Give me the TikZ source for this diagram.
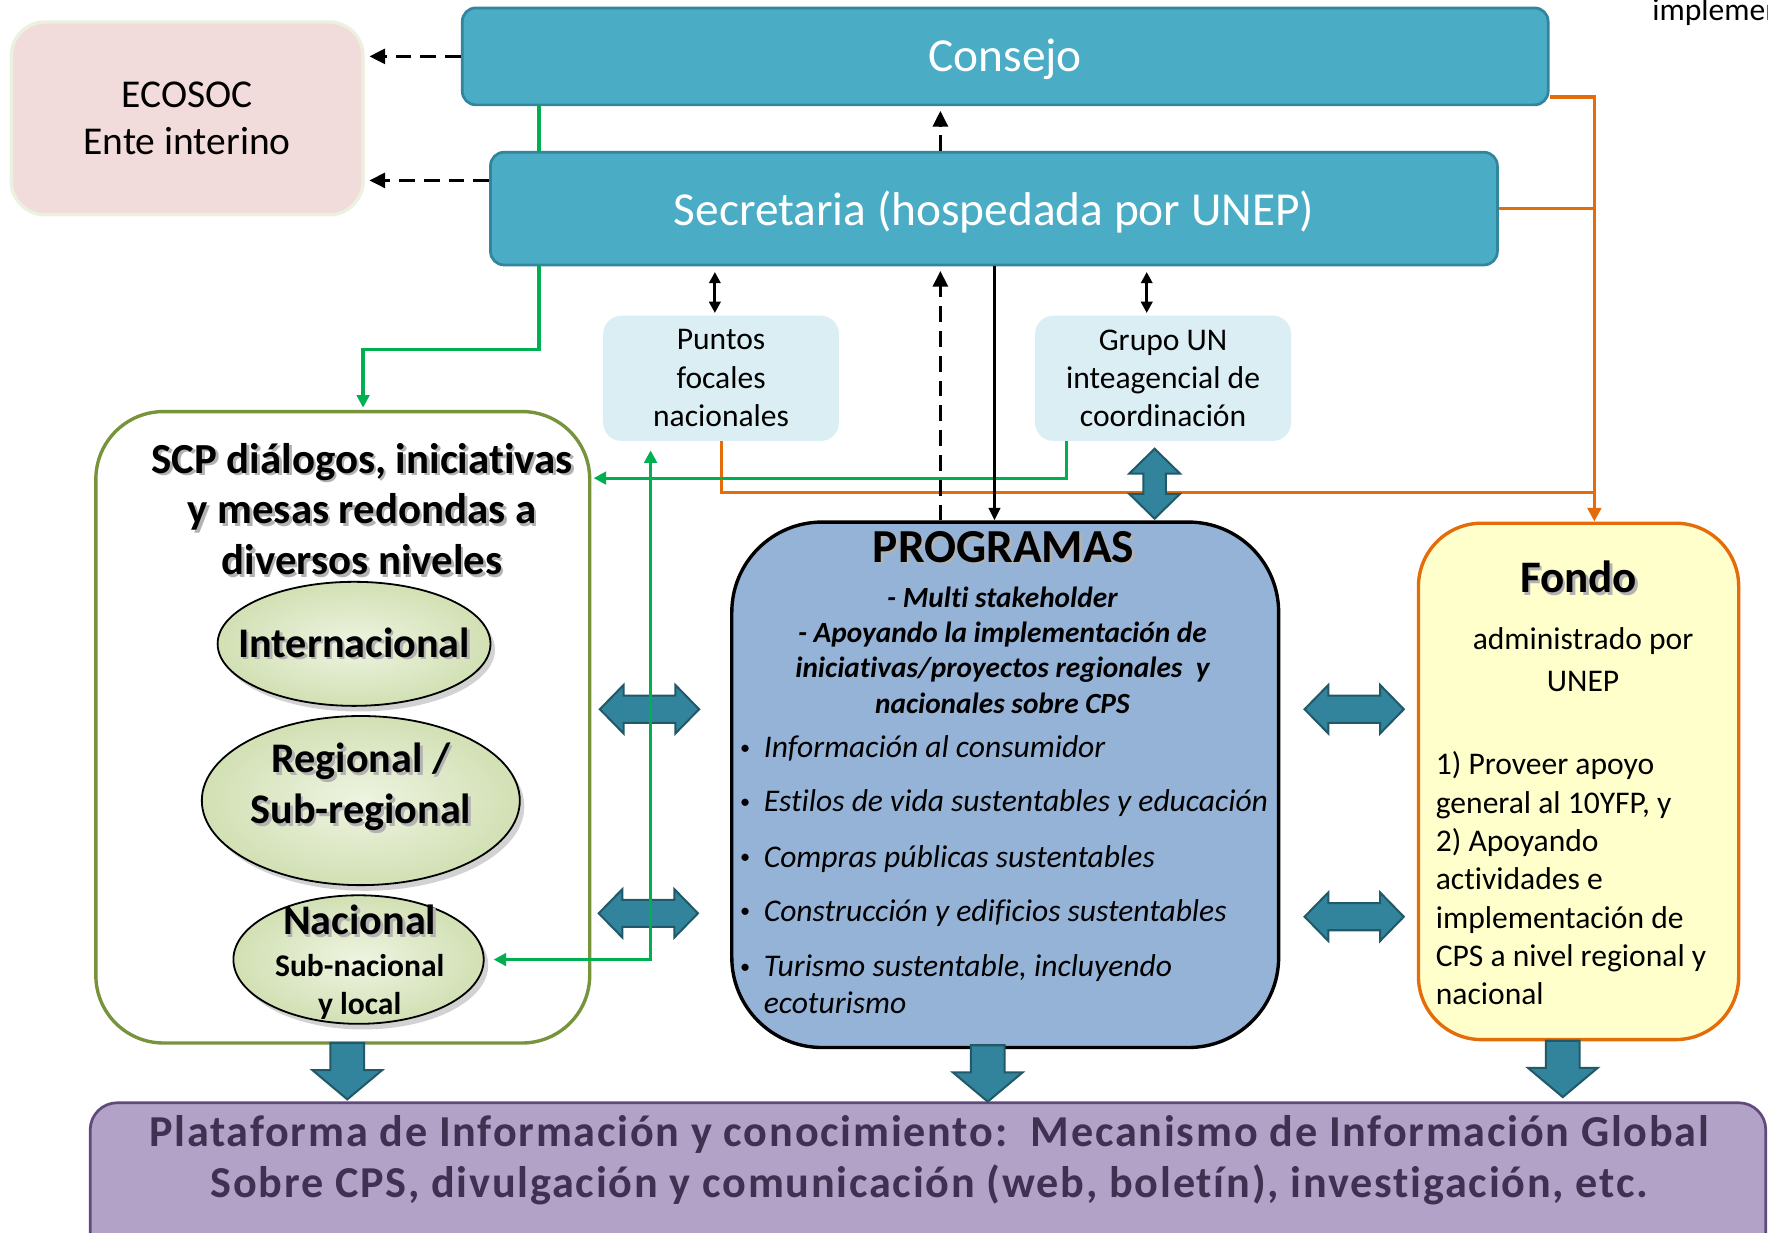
\documentclass[tikz,border=0pt]{standalone}
\usepackage{fontspec}
\setmainfont[Ligatures=NoCommon]{Carlito}
\newfontfamily\platfont[LetterSpace=4.0,Ligatures=NoCommon]{Carlito}
\usetikzlibrary{arrows.meta}
\usetikzlibrary{shapes.geometric}
\usetikzlibrary{shadows}

\definecolor{ecopink}{HTML}{F2DCDB}
\definecolor{ecoedge}{HTML}{EBF1DE}
\definecolor{tealfill}{HTML}{4BACC6}
\definecolor{tealedge}{HTML}{31859C}
\definecolor{lightblue}{HTML}{DAEEF3}
\definecolor{scpedge}{HTML}{77933C}
\definecolor{ellfill}{HTML}{D2E0B4}
\definecolor{ellhi}{HTML}{EEF4E1}
\definecolor{progblue}{HTML}{95B3D7}
\definecolor{fondofill}{HTML}{FFFFCC}
\definecolor{fondoedge}{HTML}{E46C0A}
\definecolor{linegreen}{HTML}{00B050}
\definecolor{blockfill}{HTML}{31849B}
\definecolor{blockedge}{HTML}{215968}
\definecolor{platfill}{HTML}{B3A2C7}
\definecolor{platedge}{HTML}{604A7B}
\definecolor{plattext}{HTML}{403152}

\newcommand\txtshadow[1]{\leavevmode\rlap{\hspace{1.2pt}\raisebox{-1.2pt}{\textcolor{black!30}{#1}}}#1}
\newcommand\smallbullet{\raisebox{1.5pt}{\fontsize{9}{9}\selectfont\textbullet}}
\newcommand\lowered[1]{\raisebox{-1.5pt}[\height][\depth]{#1}}

\begin{document}
\begin{tikzpicture}
 [ x=0.5pt, y=-0.5pt
 , box/.style={rectangle, inner sep=0pt, align=center}
 , pink box/.style={box, fill=ecopink, draw=ecoedge, line width=1.5pt, rounded corners=15pt, font=\fontsize{17.5}{21}\selectfont}
 , teal box/.style={box, fill=tealfill, draw=tealedge, line width=1.2pt, rounded corners=6pt, text=white, font=\fontsize{21}{25}\selectfont}
 , light box/.style={box, fill=lightblue, rounded corners=8pt, minimum height=55.5pt, font=\fontsize{14}{17}\selectfont}
 , level ellipse/.style={ellipse, draw=black, line width=0.8pt, inner sep=0pt, inner color=ellhi, outer color=ellfill, drop shadow={opacity=0.35, shadow xshift=2pt, shadow yshift=-2.5pt}}
 , level text/.style={inner sep=0pt, align=center, font=\bfseries\fontsize{18.7}{22.5}\selectfont}
 , small level text/.style={inner sep=0pt, align=center, font=\bfseries\fontsize{14}{17}\selectfont}
 , title text/.style={inner sep=0pt, align=center, font=\bfseries\fontsize{19}{22.5}\selectfont}
 , big title/.style={inner sep=0pt, font=\bfseries\fontsize{21}{25}\selectfont}
 , sub text/.style={inner sep=0pt, align=center, font=\bfseries\itshape\fontsize{13}{15.7}\selectfont}
 , item text/.style={inner sep=0pt, anchor=base west, font=\fontsize{14}{17}\selectfont}
 , plain text/.style={inner sep=0pt, font=\fontsize{14}{17}\selectfont}
 , plat text/.style={inner sep=0pt, align=center, text=plattext, font=\platfont\bfseries\fontsize{19.6}{22.5}\selectfont}
 , orange line/.style={draw=fondoedge, line width=1.4pt}
 , orange arrow/.style={orange line, -{Triangle[length=6pt,width=6pt]}}
 , green line/.style={draw=linegreen, line width=1.4pt}
 , green arrow/.style={green line, -{Triangle[length=5.5pt,width=5.5pt]}, shorten >=1pt}
 , dash arrow/.style={line width=1.6pt, dash pattern=on 7pt off 4pt, -{Triangle[length=7pt,width=6.5pt]}, shorten >=2pt}
 , black arrow/.style={line width=1.3pt, -{Triangle[length=5.5pt,width=5pt]}}
 , both arrow/.style={line width=1.3pt, {Triangle[length=5pt,width=5pt]}-{Triangle[length=5pt,width=5pt]}, shorten <=2.5pt, shorten >=1pt}
 , block/.style={fill=blockfill, draw=blockedge, line width=0.9pt, line join=miter}
 , pics/lr arrow/.style={code={\path[block] (-44,0) -- (-23,-21.5) -- (-23,-12) -- (23,-12) -- (23,-21.5) -- (44,0) -- (23,21.5) -- (23,12) -- (-23,12) -- (-23,21.5) -- cycle;}}
 , pics/ud arrow/.style={code={\path[block] (0,-31) -- (22.5,-9) -- (10,-9) -- (10,9) -- (22.5,9) -- (0,31) -- (-22.5,9) -- (-10,9) -- (-10,-9) -- (-22.5,-9) -- cycle;}}
 , pics/down arrow/.style={code={\path[block] (-15,0) -- (15,0) -- (15,24) -- (31,24) -- (0,50) -- (-31,24) -- (-15,24) -- cycle;}}
 ]
  \useasboundingbox (0,0) rectangle (1568,1093);
  \clip (0,0) rectangle (1568,1093);

  % top boxes
  \node[pink box, minimum width=156pt, minimum height=85.5pt] (ecosoc) at (166,105) {ECOSOC\\Ente interino};
  \node[teal box, minimum width=481.5pt, minimum height=43pt] (consejo) at (891.5,50) {\lowered{Consejo}};
  \node[teal box, minimum width=446.5pt, minimum height=50pt] (secret) at (881.5,185) {\lowered{Secretaria (hospedada por UNEP)}};
  \node[light box, minimum width=104.5pt] (puntos) at (639.5,335.5) {Puntos\\focales\\nacionales};
  \node[light box, minimum width=113.5pt] (grupo) at (1031.5,335.5) {Grupo UN\\inteagencial de\\coordinación};
  \node[plain text, anchor=base west] (impl) at (1465,18) {implemen};

  % SCP levels
  \node[box, fill=white, draw=scpedge, line width=1.5pt, rounded corners=30pt, minimum width=219pt, minimum height=280pt] (scp) at (304,645) {};
  \node[title text] (scpT) at (321,452.5) {\txtshadow{SCP diálogos, iniciativas}\\\txtshadow{y mesas redondas a}\\\txtshadow{diversos niveles}};
  \node[level ellipse, minimum width=121pt, minimum height=55pt] (intl) at (314,571) {};
  \node[level ellipse, minimum width=141pt, minimum height=75pt] (reg) at (320,710) {};
  \node[level ellipse, minimum width=111pt, minimum height=57pt] (nac) at (318,851) {};
  \node[level text] (intlT) at (intl) {\txtshadow{Internacional}};
  \node[level text] (regT) at (320,699) {\txtshadow{Regional /}\\\txtshadow{Sub-regional}};
  \node[level text] (nacT) at (319,817) {\txtshadow{Nacional}};
  \node[small level text] (nacS) at (319,875) {Sub-nacional\\y local};

  % programas
  \node[box, fill=progblue, draw=black, line width=1.5pt, rounded corners=40pt, minimum width=242.5pt, minimum height=233pt] (prog) at (891.5,696) {};
  \node[big title] (progT) at (890,486) {\txtshadow{PROGRAMAS}};
  \node[sub text] (progS) at (889,576.5) {- Multi stakeholder\\- Apoyando la implementación de\\iniciativas/proyectos regionales\ \ y\\nacionales sobre CPS};
  \foreach \y/\t [count=\i] in {662/Información al consumidor, 710/Estilos de vida sustentables y educación, 759/Compras públicas sustentables, 807/Construcción y edificios sustentables, 856/{Turismo sustentable, incluyendo}}
    \node[item text] (item\i) at (656,\y+10) {\makebox[10.5pt][l]{\smallbullet}\textit{\t}};
  \node[item text] (item6) at (677,899) {\textit{ecoturismo}};

  % fondo
  \node[box, fill=fondofill, draw=fondoedge, line width=1.5pt, rounded corners=28pt, minimum width=142pt, minimum height=229pt] (fondo) at (1400,693) {};
  \node[big title, font=\bfseries\fontsize{20}{24}\selectfont] (fondoT) at (1400,513) {\txtshadow{Fondo}};
  \node[plain text, align=center, font=\fontsize{14}{18.5}\selectfont] (fondoA) at (1404,585) {administrado por\\UNEP};
  \node[plain text, align=left, anchor=west] (fondoL) at (1273,779) {1) Proveer apoyo\\general al 10YFP, y\\2) Apoyando\\actividades e\\implementación de\\CPS a nivel regional y\\nacional};

  % plataforma
  \node[box, fill=platfill, draw=platedge, line width=1.2pt, rounded corners=12pt, minimum width=743pt, minimum height=71pt] (plat) at (823,1049) {};
  \node[plat text] (platT) at (824,1029) {Plataforma de Información y conocimiento:\ \ Mecanismo de Información Global\\Sobre CPS, divulgación y comunicación (web, boletín), investigación, etc.};

  % orange links to the fund
  \coordinate (fund top) at (1414,86);
  \coordinate (fund join) at (1414,437);
  \draw[orange line] (puntos.south) |- (fund join);
  \draw[orange line] (secret.east) -- (secret.east -| fund top);
  \draw[orange arrow] (fund top -| consejo.east) -- (fund top) -- (fondo.north -| fund top);

  % green links
  \coordinate (green col) at (478,0);
  \coordinate (green turn) at (322,310);
  \coordinate (green mid) at (946,424);
  \coordinate (green rise) at (577,0);
  \draw[green line] (consejo.south -| green col) -- (secret.north -| green col);
  \draw[green arrow] (secret.south -| green col) |- (green turn) -- (scp.north -| green turn);
  \draw[green arrow] (grupo.south -| green mid) |- (scp.east |- green mid);

  % block arrows
  \pic (lrA) at (576,629) {lr arrow};
  \pic (lrB) at (575,810) {lr arrow};
  \pic (lrC) at (1201,629) {lr arrow};
  \pic (lrD) at (1201,813) {lr arrow};
  \pic (udA) at (1024,429) {ud arrow};
  \pic (dnA) at (308,925) {down arrow};
  \pic (dnB) at (876,927) {down arrow};
  \pic (dnC) at (1386,923) {down arrow};

  \draw[green arrow, {Triangle[length=5.5pt,width=5.5pt]}-{Triangle[length=5.5pt,width=5.5pt]}, shorten <=4pt, shorten >=4pt] (puntos.south -| green rise) |- (nac.east);

  % black links
  \coordinate (dash col) at (834,0);
  \coordinate (dash low) at (0,160);
  \coordinate (solid col) at (882,0);
  \coordinate (focal col) at (634,0);
  \coordinate (group col) at (1017,0);
  \draw[dash arrow] (consejo.west) -- (consejo.west -| ecosoc.east);
  \draw[dash arrow] (secret.west |- dash low) -- (ecosoc.east |- dash low);
  \draw[dash arrow] (secret.north -| dash col) -- (consejo.south -| dash col);
  \draw[dash arrow] (prog.north -| dash col) -- (secret.south -| dash col);
  \draw[black arrow] (secret.south -| solid col) -- (prog.north -| solid col);
  \draw[both arrow] (secret.south -| focal col) -- (puntos.north -| focal col);
  \draw[both arrow] (secret.south -| group col) -- (grupo.north -| group col);
\end{tikzpicture}
\end{document}
